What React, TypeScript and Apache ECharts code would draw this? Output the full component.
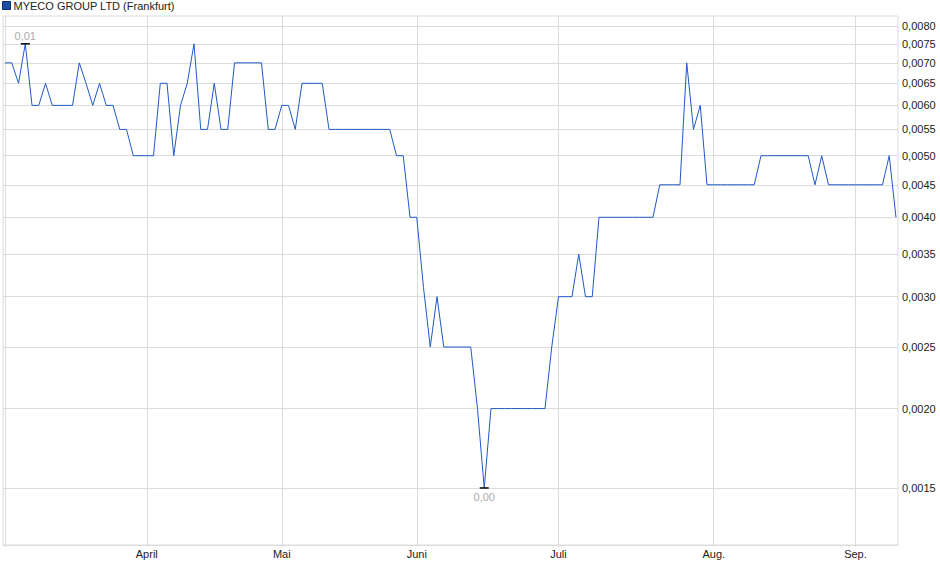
import React, { useEffect, useRef } from 'react'
import * as echarts from 'echarts'

const seriesName = 'MYECO GROUP LTD (Frankfurt)'

// closing prices per trading day (EUR), index 0 = first day shown
const prices = [
    0.007, 0.007, 0.0065, 0.0075, 0.006, 0.006, 0.0065, 0.006, 0.006, 0.006,
    0.006, 0.007, 0.0065, 0.006, 0.0065, 0.006, 0.006, 0.0055, 0.0055, 0.005,
    0.005, 0.005, 0.005, 0.0065, 0.0065, 0.005, 0.006, 0.0065, 0.0075, 0.0055,
    0.0055, 0.0065, 0.0055, 0.0055, 0.007, 0.007, 0.007, 0.007, 0.007, 0.0055,
    0.0055, 0.006, 0.006, 0.0055, 0.0065, 0.0065, 0.0065, 0.0065, 0.0055, 0.0055,
    0.0055, 0.0055, 0.0055, 0.0055, 0.0055, 0.0055, 0.0055, 0.0055, 0.005, 0.005,
    0.004, 0.004, 0.0031, 0.0025, 0.003, 0.0025, 0.0025, 0.0025, 0.0025, 0.0025,
    0.002, 0.0015, 0.002, 0.002, 0.002, 0.002, 0.002, 0.002, 0.002, 0.002,
    0.002, 0.0025, 0.003, 0.003, 0.003, 0.0035, 0.003, 0.003, 0.004, 0.004,
    0.004, 0.004, 0.004, 0.004, 0.004, 0.004, 0.004, 0.0045, 0.0045, 0.0045,
    0.0045, 0.007, 0.0055, 0.006, 0.0045, 0.0045, 0.0045, 0.0045, 0.0045, 0.0045,
    0.0045, 0.0045, 0.005, 0.005, 0.005, 0.005, 0.005, 0.005, 0.005, 0.005,
    0.0045, 0.005, 0.0045, 0.0045, 0.0045, 0.0045, 0.0045, 0.0045, 0.0045, 0.0045,
    0.0045, 0.005, 0.004,
]

// first trading day of each month (index into prices)
const monthNames = ['April', 'Mai', 'Juni', 'Juli', 'Aug.', 'Sep.']
const monthStarts = [21, 41, 61, 82, 105, 126]

const yTicks = [0.0015, 0.002, 0.0025, 0.003, 0.0035, 0.004, 0.0045, 0.005, 0.0055, 0.006, 0.0065, 0.007, 0.0075, 0.008]

const FONT = '"Liberation Sans", Arial, sans-serif'

const App: React.FC = () => {
    const chartRef = useRef<HTMLDivElement>(null)

    useEffect(() => {
        document.body.style.margin = '0'
        const chart = echarts.init(chartRef.current, null, { renderer: 'svg' })

        const option = {
            animation: false,
            textStyle: { fontFamily: FONT },
            legend: {
                left: 2,
                top: 0,
                padding: 0,
                itemWidth: 8,
                itemHeight: 8,
                itemGap: 5,
                icon: 'rect',
                data: [
                    {
                        name: seriesName,
                        itemStyle: { color: '#1e4ea6', borderColor: '#0c2d6c', borderWidth: 1 },
                    },
                ],
                textStyle: { fontSize: 11, color: '#222', fontFamily: FONT, padding: [0, 0, 0, -2] },
            },
            grid: {
                left: 3,
                right: 42,
                top: 16,
                bottom: 34,
                show: true,
                borderColor: '#dcdcdc',
                borderWidth: 1,
                containLabel: false,
            },
            xAxis: {
                type: 'value',
                min: -0.3,
                max: prices.length - 1 + 0.3,
                axisLine: { show: true, lineStyle: { color: '#dcdcdc' } },
                axisTick: {
                    show: true,
                    length: 2,
                    customValues: [0, ...monthStarts],
                    lineStyle: { color: '#dcdcdc' },
                },
                splitLine: { show: true, lineStyle: { color: '#dcdcdc', width: 1 } },
                axisLabel: {
                    customValues: monthStarts,
                    margin: 3,
                    fontSize: 11,
                    color: '#222',
                    fontFamily: FONT,
                    formatter: (v: number) => monthNames[monthStarts.indexOf(Math.round(v))] ?? '',
                },
            },
            yAxis: {
                type: 'log',
                position: 'right',
                min: 0.00122,
                max: 0.008295,
                axisLine: { show: false },
                axisTick: { show: false, customValues: yTicks },
                splitLine: { show: true, lineStyle: { color: '#dcdcdc', width: 1 } },
                minorSplitLine: { show: false },
                axisLabel: {
                    customValues: yTicks,
                    margin: 4,
                    fontSize: 11,
                    color: '#222',
                    fontFamily: FONT,
                    formatter: (v: number) => v.toFixed(4).replace('.', ','),
                },
            },
            series: [
                {
                    name: seriesName,
                    type: 'line',
                    data: prices.map((p, i) => [i, p]),
                    showSymbol: false,
                    symbol: 'none',
                    lineStyle: { color: '#1f5ac4', width: 1 },
                    itemStyle: { color: '#1f5ac4' },
                    markPoint: {
                        symbol: 'rect',
                        symbolSize: [9, 1.5],
                        itemStyle: { color: '#000' },
                        label: {
                            show: true,
                            fontSize: 11,
                            color: '#aaa',
                            fontFamily: FONT,
                            formatter: (p: any) => Number(p.value).toFixed(2).replace('.', ','),
                        },
                        data: [
                            { type: 'max', label: { position: 'top', distance: 2 } },
                            { type: 'min', label: { position: 'bottom', distance: 3 } },
                        ],
                    },
                },
            ],
        }

        chart.setOption(option)

        return () => {
            chart.dispose()
        }
    }, [])

    return <div ref={chartRef} style={{ width: '940px', height: '579px' }} />
}

export default App
